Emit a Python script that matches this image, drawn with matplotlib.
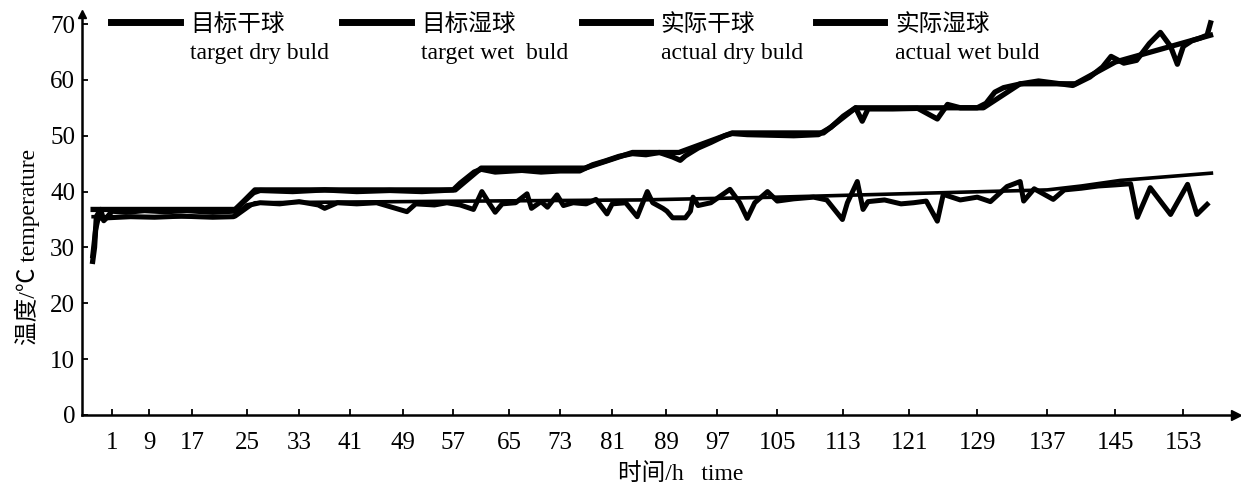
import numpy as np
import matplotlib
matplotlib.use("Agg")
import matplotlib.pyplot as plt

plt.rcParams['font.family'] = ['Liberation Serif', 'Noto Sans CJK SC']

# x axis in the scan is not evenly spaced, so keep the tick positions as read
tick_hours = [1, 9, 17, 25, 33, 41, 49, 57, 65, 73, 81, 89, 97, 105, 113, 121, 129, 137, 145, 153]
tick_pos = [112, 149, 192, 247, 299, 350, 403, 453, 509, 560, 612, 666, 717, 777, 843, 909, 977, 1047, 1115, 1183]
y_ticks = [0, 10, 20, 30, 40, 50, 60, 70]

labels = ["目标干球\ntarget dry buld", "目标湿球\ntarget wet  buld",
          "实际干球\nactual dry buld", "实际湿球\nactual wet buld"]

# target dry bulb
td_h = [-3.1, 23.3, 26.2, 57.3, 61, 76.8, 84, 91, 99, 110.6, 114.5, 129.7, 133.9, 140.3, 145, 156.2]
td_v = [36.8, 36.8, 40.3, 40.3, 44.2, 44.2, 47.0, 47.0, 50.5, 50.5, 55.0, 55.0, 59.3, 59.3, 63.2, 68.0]

# target wet bulb
tw_h = [-3.1, 23.3, 26.2, 60, 85, 105, 120, 137, 141, 145.6, 156.3]
tw_v = [35.5, 35.5, 38.0, 38.3, 38.5, 39.0, 39.6, 40.3, 41.0, 42.0, 43.3]

# actual dry bulb
ad_h = [-3.2, -2.8, -2.4, -1.5, -0.8, 0, 1, 4, 8, 12, 16, 20, 23, 26, 27, 32, 37, 42, 47, 52, 57,
        58, 60, 61, 63, 67, 70, 73, 76, 78, 80, 82, 84, 86, 88, 90, 91.2, 92, 94, 96, 98, 99, 101,
        104, 107, 110, 111.5, 113, 114.5, 115.3, 116, 119, 122, 124.3, 125.5, 127, 129, 130, 131,
        132, 134, 136, 138, 140, 142, 143.5, 144.5, 146, 147.5, 149, 150.3, 151.5, 152.3, 153,
        154, 155, 155.8, 156.2]
ad_v = [27.5, 30.0, 35.5, 36.8, 34.8, 35.5, 36.5, 36.3, 36.6, 36.4, 36.6, 36.3, 36.5, 39.8, 40.2,
        40.0, 40.3, 40.0, 40.2, 40.0, 40.3, 41.5, 43.5, 44.0, 43.5, 43.8, 43.5, 43.7, 43.7, 44.8,
        45.5, 46.3, 46.8, 46.6, 47.0, 46.2, 45.6, 46.4, 47.8, 48.8, 50.0, 50.4, 50.2, 50.1, 50.0,
        50.2, 51.5, 53.5, 55.0, 52.6, 54.8, 54.8, 54.9, 53.0, 55.6, 55.0, 55.0, 55.8, 57.8, 58.6,
        59.3, 59.8, 59.4, 59.0, 60.5, 62.3, 64.2, 63.0, 63.5, 66.5, 68.5, 66.0, 62.8, 66.0, 67.0,
        67.5, 68.0, 70.2]

# actual wet bulb
aw_h = [-3.2, -2.6, -2.0, 0, 5, 10, 15, 20, 23, 25, 27, 30, 33, 36, 37, 39, 42, 45, 47, 49.6, 51,
        54, 56, 58, 59.9, 61.1, 62, 63, 64, 66, 67.8, 68.5, 70, 71, 72.5, 73.5, 75, 77, 78.5, 80.2,
        81, 83, 84.7, 86.2, 87, 88.5, 89.1, 90, 92, 92.8, 93.2, 94, 96, 98.7, 100, 101, 102, 103.7,
        105, 107, 109.4, 111, 112.9, 113.5, 114.7, 115.4, 116, 118, 120, 121.5, 123, 124.3, 125,
        127, 129, 130.5, 132.4, 133.9, 134.3, 135.5, 137.7, 139, 141, 143, 145, 146.8, 147.6,
        149.1, 151.5, 153.5, 154.6, 155.8]
aw_v = [28.5, 33.0, 35.2, 35.3, 35.5, 35.4, 35.6, 35.4, 35.5, 37.5, 38.0, 37.8, 38.2, 37.6, 37.0,
        38.0, 37.8, 38.0, 37.3, 36.4, 37.8, 37.6, 38.0, 37.6, 36.8, 40.0, 38.2, 36.3, 37.8, 38.0,
        39.6, 37.0, 38.2, 37.2, 39.4, 37.5, 38.0, 37.8, 38.6, 36.0, 37.8, 38.0, 35.5, 40.0, 38.0,
        37.0, 36.5, 35.3, 35.3, 36.5, 39.0, 37.5, 38.0, 40.4, 38.0, 35.2, 38.0, 40.0, 38.3, 38.7,
        39.0, 38.5, 35.0, 38.0, 41.8, 36.8, 38.2, 38.5, 37.8, 38.0, 38.3, 34.7, 39.5, 38.5, 39.0,
        38.2, 40.9, 41.8, 38.3, 40.5, 38.6, 40.3, 40.6, 41.0, 41.2, 41.4, 35.4, 40.7, 35.9, 41.3,
        35.9, 37.7]

# piecewise map hours -> position, extended linearly on both ends
map_h = [-200.0] + tick_hours + [400.0]
map_p = [112 - 201 * 4.625] + tick_pos + [1183 + 247 * 8.5]


def fwd(x):
    return np.interp(x, map_h, map_p)


def inv(p):
    return np.interp(p, map_p, map_h)


fig = plt.figure(figsize=(12.41, 4.90), dpi=100)
ax = fig.add_axes([0.0661, 0.1531, 0.9299, 0.8184])
ax.set_xscale('function', functions=(fwd, inv))

ax.plot(td_h, td_v, color='black', lw=3.8, solid_joinstyle='round')
ax.plot(tw_h, tw_v, color='black', lw=2.6)
ax.plot(ad_h, ad_v, color='black', lw=3.8, solid_joinstyle='round')
ax.plot(aw_h, aw_v, color='black', lw=3.6, solid_joinstyle='round')

ax.set_xlim(-5.5, 159.2)
ax.set_ylim(0, 71.8)
ax.set_xticks(tick_hours)
ax.set_xticklabels([str(h) for h in tick_hours])
ax.set_yticks(y_ticks)
ax.tick_params(axis='both', direction='in', length=4, width=1.3, labelsize=18)
ax.tick_params(axis='x', pad=12)
ax.tick_params(axis='y', pad=5)

for s in ['top', 'right']:
    ax.spines[s].set_visible(False)
for s in ['left', 'bottom']:
    ax.spines[s].set_linewidth(1.8)
ax.plot(1, 0, '>k', ms=7, transform=ax.transAxes, clip_on=False)
ax.plot(0, 1, '^k', ms=6, transform=ax.transAxes, clip_on=False)

ax.set_xlabel('时间/h   time', fontsize=17)
ax.xaxis.set_label_coords(0.519, -0.12)
ax.set_ylabel('温度/℃ temperature', fontsize=17)
ax.yaxis.set_label_coords(-0.036, 0.42)

handles = [plt.Line2D([], [], color='black', lw=5) for _ in labels]
leg = ax.legend(handles, labels, ncol=4, loc='upper left', bbox_to_anchor=(0.015, 1.03),
                frameon=False, fontsize=17, handlelength=2.9, handletextpad=0.45,
                columnspacing=0.55, borderpad=0, labelspacing=0)
for t in leg.get_texts():
    t.set_linespacing(1.45)
for ln in leg.get_lines():
    ln.set_ydata([v + 12 for v in ln.get_ydata()])

fig.savefig('out.png', dpi=100)
